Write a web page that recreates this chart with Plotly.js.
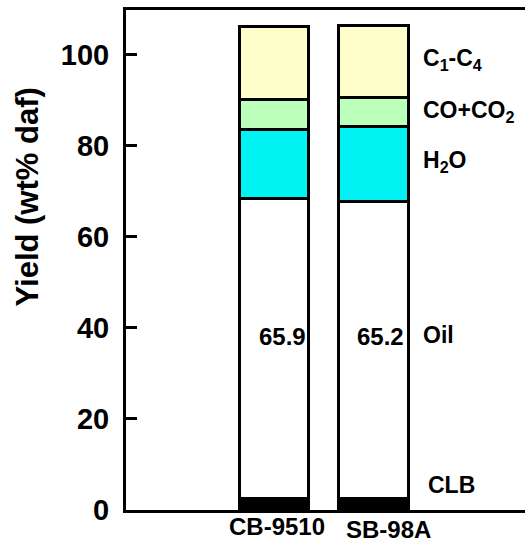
<!DOCTYPE html>
<html>
<head>
<meta charset="utf-8">
<script src="https://cdn.plot.ly/plotly-3.0.1.min.js"></script>
<style>html,body{margin:0;padding:0;background:#fff}#chart{width:525px;height:544px}</style>
</head>
<body>
<div id="chart"></div>
<script>
// ---- data ----
var categories = ['CB-9510', 'SB-98A'];
var CLB    = [2.5, 2.6];
var Oil    = [65.9, 65.2];
var H2O    = [15.2, 16.4];
var CO_CO2 = [6.5, 6.4];
var C1C4   = [16.0, 15.7];
var seriesNames = ['CLB', 'Oil', 'H<sub>2</sub>O', 'CO+CO<sub>2</sub>', 'C<sub>1</sub>-C<sub>4</sub>'];
var yTickVals = [0, 20, 40, 60, 80, 100];
var yTickText = ['0', '20', '40', '60', '80', '100'];

var FONT = 'Liberation Sans, Arial, Helvetica, sans-serif';
var seriesData = [CLB, Oil, H2O, CO_CO2, C1C4];
var colors = ['#000000', '#FFFFFF', '#00F2F2', '#BBFFBB', '#FFFFCC'];
function b(s) { return '<b>' + s + '</b>'; }

var traces = seriesData.map(function (vals, i) {
  return {
    type: 'bar', x: categories, y: vals, name: seriesNames[i],
    marker: {color: colors[i], line: {color: '#000', width: 3}},
    hoverinfo: 'skip'
  };
});

var annotations = [];
// right-hand series labels (positioned beside last bar)
var labelY = [5.5, 38.5, 76.6, 87.6, 98.9];
var labelShift = [53, 48, 48, 48, 48];
seriesNames.forEach(function (n, i) {
  annotations.push({
    x: categories[categories.length - 1], y: labelY[i], xref: 'x', yref: 'y',
    xanchor: 'left', yanchor: 'middle', xshift: labelShift[i],
    text: b(n), showarrow: false,
    font: {family: FONT, size: 23, color: '#000'}
  });
});
// oil values inside bars
var valShift = [9, 7];
categories.forEach(function (c, i) {
  annotations.push({
    x: c, y: 38, xref: 'x', yref: 'y', xanchor: 'center', yanchor: 'middle',
    xshift: valShift[i], text: b(Oil[i].toFixed(1)), showarrow: false,
    font: {family: FONT, size: 24, color: '#000'}
  });
});
// category labels
var catShiftX = [3, 15];
var catShiftY = [-2, -5];
categories.forEach(function (c, i) {
  annotations.push({
    x: c, y: 0, xref: 'x', yref: 'paper', xanchor: 'center', yanchor: 'top',
    xshift: catShiftX[i], yshift: catShiftY[i], text: b(c), showarrow: false,
    borderpad: 0,
    font: {family: FONT, size: 24, color: '#000'}
  });
});
// y-axis title
annotations.push({
  x: 0, y: 0.625, xref: 'paper', yref: 'paper', xanchor: 'center', yanchor: 'middle',
  xshift: -99, text: b('Yield (wt% daf)'), textangle: -90, showarrow: false,
  font: {family: FONT, size: 31, color: '#000'}
});

var layout = {
  width: 525, height: 544,
  margin: {l: 126, r: 0, t: 10, b: 34, pad: 0},
  paper_bgcolor: '#fff', plot_bgcolor: '#fff',
  barmode: 'stack', bargap: 0.30,
  showlegend: false,
  xaxis: {
    type: 'category', range: [-1.487, 2.523],
    showline: true, linecolor: '#000', linewidth: 3, mirror: true,
    showticklabels: false, ticks: '', showgrid: false, zeroline: false
  },
  yaxis: {
    range: [0, 109.8], tickvals: yTickVals, ticktext: yTickText.map(b),
    showline: true, linecolor: '#000', linewidth: 3, mirror: false,
    ticks: 'inside', ticklen: 11, tickwidth: 3, tickcolor: '#000',
    showgrid: false, zeroline: false, ticklabelstandoff: 8,
    tickfont: {family: FONT, size: 29, color: '#000'}
  },
  annotations: annotations
};

Plotly.newPlot('chart', traces, layout, {staticPlot: true, displayModeBar: false});
</script>
</body>
</html>
